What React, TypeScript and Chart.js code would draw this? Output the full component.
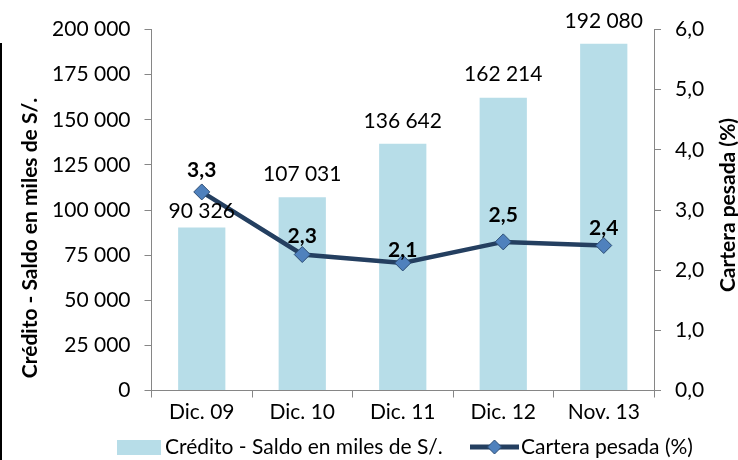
import { useEffect, useRef } from 'react';
import { Chart, registerables } from 'chart.js';

Chart.register(...registerables);

const categories = ['Dic. 09', 'Dic. 10', 'Dic. 11', 'Dic. 12', 'Nov. 13'];
const creditoValues = [90326, 107031, 136642, 162214, 192080];
const carteraValues = [3.3, 2.26, 2.12, 2.47, 2.41];

const leftMin = 0;
const leftMax = 200000;
const leftStep = 25000;
const rightMin = 0;
const rightMax = 6;
const rightStep = 1;

const creditoLabel = 'Crédito - Saldo en miles de S/.';
const carteraLabel = 'Cartera pesada (%)';

const FONT = "Lato, 'DejaVu Sans', sans-serif";
const FS = 21;
const BAR_COLOR = '#b7dde8';
const LINE_COLOR = '#243f60';
const MARKER_COLOR = '#4f81bd';
const AXIS_COLOR = '#868686';

const barLabelOffsets = [16, 23, 23, 23, 23];
const lineLabelOffsets = [22, 18, 13, 27, 17];

const fmtThousands = (v: number) =>
  String(Math.round(v)).replace(/\B(?=(\d{3})+(?!\d))/g, ' ');
const fmtDec = (v: number) => v.toFixed(1).replace('.', ',');

const labelsPlugin = {
  id: 'customLabels',
  afterDatasetsDraw(chart: any) {
    const ctx = chart.ctx;
    ctx.save();
    ctx.textAlign = 'center';
    ctx.textBaseline = 'middle';
    ctx.fillStyle = '#000';
    const barMeta = chart.getDatasetMeta(1);
    ctx.font = `${FS}px ${FONT}`;
    barMeta.data.forEach((el: any, i: number) => {
      ctx.fillText(fmtThousands(creditoValues[i]), el.x, el.y - barLabelOffsets[i]);
    });
    const lineMeta = chart.getDatasetMeta(0);
    ctx.font = `bold ${FS}px ${FONT}`;
    lineMeta.data.forEach((el: any, i: number) => {
      ctx.fillText(fmtDec(carteraValues[i]), el.x, el.y - lineLabelOffsets[i]);
    });
    ctx.restore();
  },
  afterDraw(chart: any) {
    const ctx = chart.ctx;
    ctx.save();
    ctx.fillStyle = '#000';
    ctx.font = `bold ${FS}px ${FONT}`;
    ctx.textAlign = 'center';
    ctx.textBaseline = 'middle';
    ctx.save();
    ctx.translate(30, 238);
    ctx.rotate(-Math.PI / 2);
    ctx.fillText(creditoLabel, 0, 0);
    ctx.restore();
    ctx.save();
    ctx.translate(728, 205);
    ctx.rotate(-Math.PI / 2);
    ctx.fillText(carteraLabel, 0, 0);
    ctx.restore();
    // legend
    const ly = 447;
    ctx.fillStyle = BAR_COLOR;
    ctx.fillRect(117, 440, 44, 15);
    ctx.fillStyle = '#000';
    ctx.font = `${FS}px ${FONT}`;
    ctx.textAlign = 'left';
    ctx.fillText(creditoLabel, 165, ly);
    ctx.strokeStyle = LINE_COLOR;
    ctx.lineWidth = 5;
    ctx.beginPath();
    ctx.moveTo(470, ly);
    ctx.lineTo(519, ly);
    ctx.stroke();
    ctx.beginPath();
    const cx = 494.5, r = 7;
    ctx.moveTo(cx, ly - r);
    ctx.lineTo(cx + r, ly);
    ctx.lineTo(cx, ly + r);
    ctx.lineTo(cx - r, ly);
    ctx.closePath();
    ctx.fillStyle = MARKER_COLOR;
    ctx.fill();
    ctx.lineWidth = 1;
    ctx.strokeStyle = '#2c4d75';
    ctx.stroke();
    ctx.fillStyle = '#000';
    ctx.fillText(carteraLabel, 521, ly);
    ctx.restore();
  },
};

export default function App() {
  const ref = useRef<HTMLCanvasElement>(null);
  useEffect(() => {
    document.body.style.margin = '0';
    Chart.defaults.font.family = FONT;
    Chart.defaults.font.size = FS;
    Chart.defaults.color = '#000';
    const chart = new Chart(ref.current as HTMLCanvasElement, {
      type: 'bar',
      data: {
        labels: categories,
        datasets: [
          {
            type: 'line',
            label: carteraLabel,
            data: carteraValues,
            yAxisID: 'y1',
            borderColor: LINE_COLOR,
            borderWidth: 4.5,
            pointStyle: 'rectRot',
            pointRadius: 8,
            pointBackgroundColor: MARKER_COLOR,
            pointBorderColor: '#2c4d75',
            pointBorderWidth: 1,
            tension: 0,
            order: 0,
          } as any,
          {
            type: 'bar',
            label: creditoLabel,
            data: creditoValues,
            yAxisID: 'y',
            backgroundColor: BAR_COLOR,
            categoryPercentage: 1,
            barPercentage: 0.47,
            order: 1,
          },
        ],
      },
      options: {
        responsive: false,
        animation: false,
        layout: { padding: { top: 29.5, left: 0, right: 0, bottom: 0 } },
        plugins: { legend: { display: false }, tooltip: { enabled: false } },
        scales: {
          x: {
            offset: true,
            grid: { display: true, drawOnChartArea: false, offset: true, tickLength: 7, color: AXIS_COLOR },
            border: { color: AXIS_COLOR, width: 1 },
            ticks: { padding: 2, color: '#000', font: { size: FS }, maxRotation: 0 },
            afterFit: (s: any) => { s.height = 69.5; },
          },
          y: {
            position: 'left',
            min: leftMin,
            max: leftMax,
            grid: { drawOnChartArea: false, tickLength: 7, color: AXIS_COLOR },
            border: { color: AXIS_COLOR, width: 1 },
            ticks: { stepSize: leftStep, padding: 14, color: '#000', callback: (v: any) => fmtThousands(Number(v)) },
            afterFit: (s: any) => { s.width = 151.5; },
          },
          y1: {
            position: 'right',
            min: rightMin,
            max: rightMax,
            grid: { drawOnChartArea: false, tickLength: 7, color: AXIS_COLOR },
            border: { color: AXIS_COLOR, width: 1 },
            ticks: { stepSize: rightStep, padding: 14, color: '#000', callback: (v: any) => fmtDec(Number(v)) },
            afterFit: (s: any) => { s.width = 84; },
          },
        },
      },
      plugins: [labelsPlugin],
    });
    return () => chart.destroy();
  }, []);
  return (
    <div style={{ position: 'relative', width: 738, height: 460, background: '#fff' }}>
      <canvas ref={ref} width={738} height={460} style={{ display: 'block' }} />
      <div style={{ position: 'absolute', left: 0, top: 43, width: 2, height: 417, background: '#000' }} />
    </div>
  );
}
